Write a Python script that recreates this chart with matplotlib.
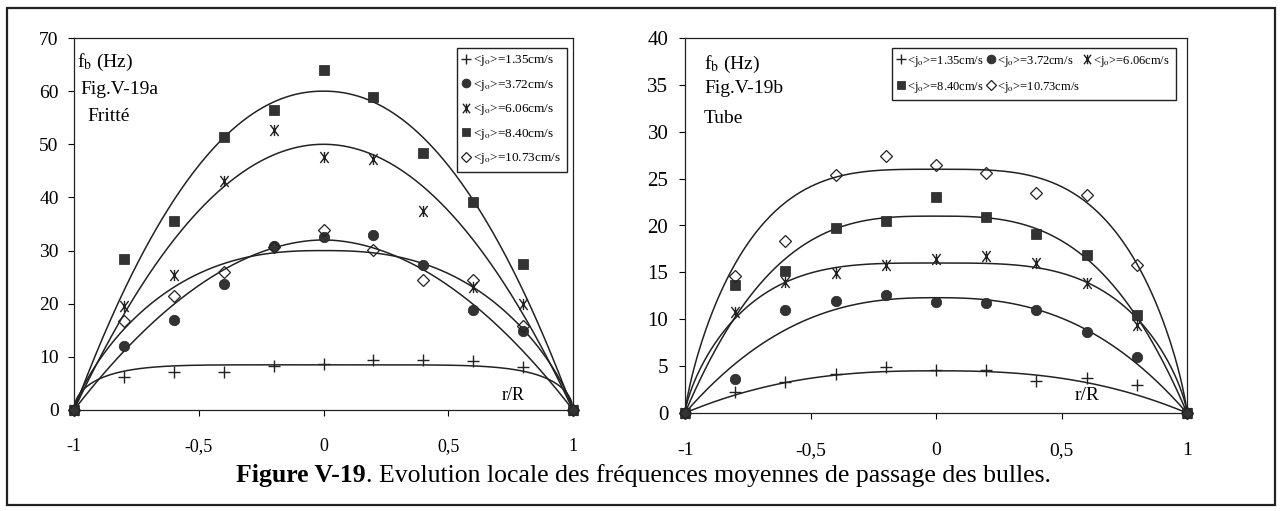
import numpy as np
import matplotlib.pyplot as plt
from matplotlib.patches import Rectangle
from matplotlib.path import Path

plt.rcParams['font.family'] = ['Liberation Serif', 'DejaVu Serif']
plt.rcParams['mathtext.fontset'] = 'stix'

# radial positions r/R
r_pos = [-1, -0.8, -0.6, -0.4, -0.2, 0, 0.2, 0.4, 0.6, 0.8, 1]

labels = ['1.35', '3.72', '6.06', '8.40', '10.73']

# Fig. V-19a  (Fritte)
fr_135 = [0, 6.2, 7.1, 7.1, 8.2, 8.6, 9.5, 9.4, 9.2, 8.1, 0]
fr_372 = [0, 12.1, 17.0, 23.8, 30.9, 32.5, 32.9, 27.2, 18.9, 14.9, 0]
fr_606 = [0, 19.6, 25.4, 43.0, 52.6, 47.6, 47.2, 37.5, 23.1, 20.0, 0]
fr_840 = [0, 28.4, 35.5, 51.3, 56.4, 64.0, 58.9, 48.4, 39.2, 27.5, 0]
fr_1073 = [0, 16.7, 21.5, 26.0, 30.6, 33.8, 30.2, 24.5, 24.4, 15.9, 0]

# Fig. V-19b  (Tube)
tu_135 = [0, 2.2, 3.3, 4.2, 4.9, 4.6, 4.6, 3.4, 3.7, 3.0, 0]
tu_372 = [0, 3.6, 11.0, 12.0, 12.6, 11.8, 11.7, 11.0, 8.6, 6.0, 0]
tu_606 = [0, 10.8, 14.0, 14.9, 15.8, 16.4, 16.7, 16.0, 13.9, 9.4, 0]
tu_840 = [0, 13.7, 15.1, 19.7, 20.5, 23.0, 20.9, 19.1, 16.8, 10.5, 0]
tu_1073 = [0, 14.6, 18.3, 25.4, 27.4, 26.5, 25.6, 23.5, 23.3, 15.8, 0]

# fitted profiles f = fmax * (1 - |r|^n)^p, parameters
fr_fmax = [8.5, 32, 50, 60, 30]
fr_n = [6, 1.9, 2, 2.1, 2.5]
fr_p = [0.5, 1, 1, 1, 0.8]

tu_fmax = [4.5, 12.3, 16, 21, 26]
tu_n = [2.5, 2.5, 3.5, 3, 3.5]
tu_p = [1, 1, 0.75, 1, 0.8]

# "Ж"-like marker: X with a vertical bar
zhe = Path([(0, -1), (0, 1), (-0.75, -1), (0.75, 1), (-0.75, 1), (0.75, -1)],
           [Path.MOVETO, Path.LINETO, Path.MOVETO, Path.LINETO, Path.MOVETO, Path.LINETO])

styles = [dict(marker='+', ms=8, mew=1.0, mfc='none', mec='#222'),
          dict(marker='o', ms=7.5, mew=0.5, mfc='#333', mec='#222'),
          dict(marker=zhe, ms=8, mew=1.0, mfc='none', mec='#222'),
          dict(marker='s', ms=7.5, mew=0.5, mfc='#333', mec='#222'),
          dict(marker='D', ms=6, mew=0.9, mfc='none', mec='#222')]


def draw_panel(ax, series, fmax, n_exp, p_exp, ymax, ystep, yfs, xfs, xpad, ypad):
    rr = np.linspace(-1, 1, 401)
    for fm, ne, pe in zip(fmax, n_exp, p_exp):
        ax.plot(rr, fm * (1 - np.abs(rr) ** ne) ** pe, color='#222', lw=1.1, zorder=2)
    handles = []
    for vals, st, lab in zip(series, styles, labels):
        h, = ax.plot(r_pos, vals, ls='none', clip_on=False, zorder=3,
                     label=r'<j$_{\mathrm{o}}$>=' + lab + 'cm/s', **st)
        handles.append(h)
    ax.set_xlim(-1, 1)
    ax.set_ylim(0, ymax)
    ax.set_xticks([-1, -0.5, 0, 0.5, 1])
    ax.set_xticklabels(['-1', '-0,5', '0', '0,5', '1'], fontsize=xfs)
    ax.set_yticks(np.arange(0, ymax + 1, ystep))
    ax.set_yticklabels([str(v) for v in np.arange(0, ymax + 1, ystep)], fontsize=yfs)
    ax.tick_params(axis='x', direction='out', length=4, width=0.8, pad=xpad)
    ax.tick_params(axis='y', direction='out', length=4, width=0.8, pad=ypad)
    for s in ax.spines.values():
        s.set_linewidth(0.9)
        s.set_color('#222')
    return handles


fig = plt.figure(figsize=(12.8, 5.11), dpi=100)
W, H = 1280, 511

ax1 = fig.add_axes([74 / W, 1 - 410 / H, 499 / W, 372 / H])
h1 = draw_panel(ax1, [fr_135, fr_372, fr_606, fr_840, fr_1073], fr_fmax, fr_n, fr_p,
                70, 10, 14, 13, 16, 7)
ax1.text(0.006, 0.935, r'f$_\mathrm{b}$ (Hz)', transform=ax1.transAxes, fontsize=14, va='center')
ax1.text(0.012, 0.862, 'Fig.V-19a', transform=ax1.transAxes, fontsize=14, va='center')
ax1.text(0.026, 0.79, 'Fritté', transform=ax1.transAxes, fontsize=14, va='center')
ax1.text(0.76, 2.8, 'r/R', fontsize=13, ha='center', va='center')
ax1.legend(handles=h1, loc='upper left', bbox_to_anchor=(383 / 499, 1 - 10 / 372),
           fontsize=9.5, frameon=True, fancybox=False, edgecolor='#222',
           framealpha=1, handlelength=0.6, handletextpad=0.25, labelspacing=0.72,
           borderpad=0.4, borderaxespad=0, markerscale=0.85)

ax2 = fig.add_axes([685 / W, 1 - 413 / H, 502 / W, 375 / H])
h2 = draw_panel(ax2, [tu_135, tu_372, tu_606, tu_840, tu_1073], tu_fmax, tu_n, tu_p,
                40, 5, 15, 14, 17, 8)
ax2.text(0.038, 0.93, r'f$_\mathrm{b}$ (Hz)', transform=ax2.transAxes, fontsize=14, va='center')
ax2.text(0.038, 0.865, 'Fig.V-19b', transform=ax2.transAxes, fontsize=14, va='center')
ax2.text(0.038, 0.785, 'Tube', transform=ax2.transAxes, fontsize=14, va='center')
ax2.text(0.6, 1.0, 'r/R', fontsize=14, ha='center', va='bottom')
order = [0, 3, 1, 4, 2]
ax2.legend(handles=[h2[i] for i in order], ncol=3, loc='upper left',
           bbox_to_anchor=(207 / 502, 1 - 10 / 375),
           fontsize=9, frameon=True, fancybox=False, edgecolor='#222',
           framealpha=1, handlelength=0.5, handletextpad=0.25, columnspacing=0.3,
           labelspacing=0.9, borderpad=0.45, borderaxespad=0, markerscale=0.85)

# caption
t1 = fig.text(236 / W, 1 - 475 / H, 'Figure V-19', fontsize=18.5, weight='bold',
              ha='left', va='center')
ax1.annotate('. Evolution locale des fréquences moyennes de passage des bulles.',
             xy=(1, 0), xycoords=t1, ha='left', va='bottom', fontsize=18.5,
             annotation_clip=False)

# outer frame
fig.add_artist(Rectangle((7 / W, 1 - 505 / H), 1268 / W, 497 / H, transform=fig.transFigure,
                         fill=False, lw=1.6, ec='#222'))

fig.savefig('out.png', dpi=100)
